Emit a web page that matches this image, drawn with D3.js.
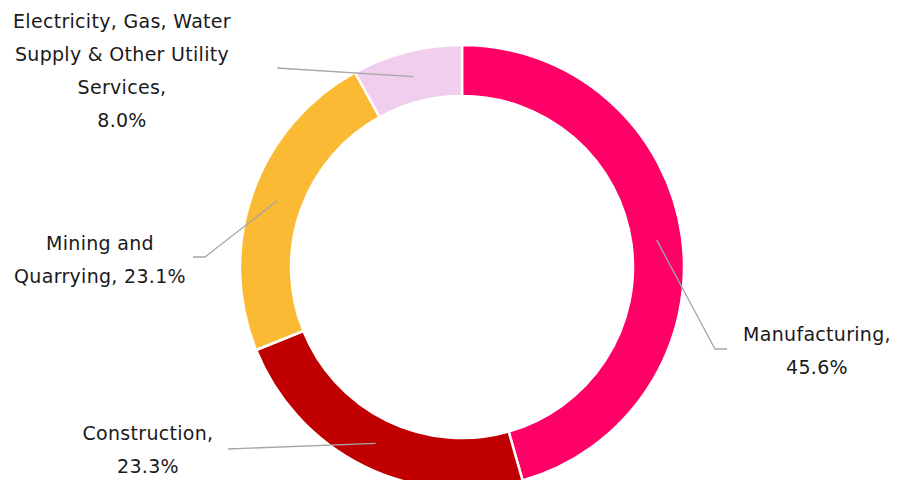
<!DOCTYPE html>
<html>
<head>
<meta charset="utf-8">
<script src="https://cdn.jsdelivr.net/npm/d3@7"></script>
<style>
  html, body { margin: 0; padding: 0; background: #fff; }
  svg { display: block; font-family: "DejaVu Sans", "Open Sans", sans-serif; }
</style>
</head>
<body>
<div id="container"></div>
<script>
// data
const categories = ['Manufacturing', 'Construction', 'Mining and Quarrying', 'Electricity, Gas, Water Supply & Other Utility Services']
const shares = [45.6, 23.3, 23.1, 8.0]
const colors = ['#ff0066', '#c00000', '#fbba34', '#f1cdee']
// label text lines, last line carries the percent
const labelLines = [
  ['Manufacturing,', '45.6%'],
  ['Construction,', '23.3%'],
  ['Mining and', 'Quarrying, 23.1%'],
  ['Electricity, Gas, Water', 'Supply & Other Utility', 'Services,', '8.0%']
]

const width = 900
const height = 480
const cx = 462
const cy = 267
const outerR = 222
const innerR = 171
const lineGap = 33

// label placement (centre x, first line y) and leader line end / elbow
const labelLayout = [
  { x: 817, y: 334, end: [727, 349], elbow: [715, 349] },
  { x: 148, y: 433, end: [228, 449] },
  { x: 100, y: 243, end: [193, 257], elbow: [205, 257] },
  { x: 122, y: 21, end: [277, 68] }
]

const data = categories.map((c, i) => ({ name: c, value: shares[i], idx: i }))

const svg = d3.select('#container')
  .append('svg')
  .attr('width', width)
  .attr('height', height)

const g = svg.append('g').attr('transform', `translate(${cx},${cy})`)

const pie = d3.pie().sort(null).value(d => d.value)
const arc = d3.arc().innerRadius(innerR).outerRadius(outerR)
const midArc = d3.arc().innerRadius((innerR + outerR) / 2).outerRadius((innerR + outerR) / 2)

const arcs = pie(data)

g.selectAll('.slice')
  .data(arcs)
  .enter().append('path')
  .attr('class', 'slice')
  .attr('d', arc)
  .style('fill', d => colors[d.data.idx])
  .style('stroke', '#fff')
  .style('stroke-width', 2.5)

// leader lines
svg.selectAll('.leader')
  .data(arcs)
  .enter().append('polyline')
  .attr('class', 'leader')
  .attr('points', d => {
    let c = midArc.centroid(d)
    let lay = labelLayout[d.data.idx]
    let pts = [[c[0] + cx, c[1] + cy]]
    if (lay.elbow) pts.push(lay.elbow)
    pts.push(lay.end)
    return pts.map(p => p.join(',')).join(' ')
  })
  .style('fill', 'none')
  .style('stroke', '#a6a6a6')
  .style('stroke-width', 1.3)

// labels
const labels = svg.selectAll('.label')
  .data(arcs)
  .enter().append('text')
  .attr('class', 'label')
  .attr('text-anchor', 'middle')
  .style('font-size', '19px')
  .style('letter-spacing', '0.3px')
  .style('fill', '#1a1a1a')

labels.selectAll('tspan')
  .data(d => labelLines[d.data.idx].map(t => ({ t, lay: labelLayout[d.data.idx] })))
  .enter().append('tspan')
  .attr('x', d => d.lay.x)
  .attr('y', (d, i) => d.lay.y + i * lineGap)
  .attr('dy', '0.35em')
  .text(d => d.t)
</script>
</body>
</html>
